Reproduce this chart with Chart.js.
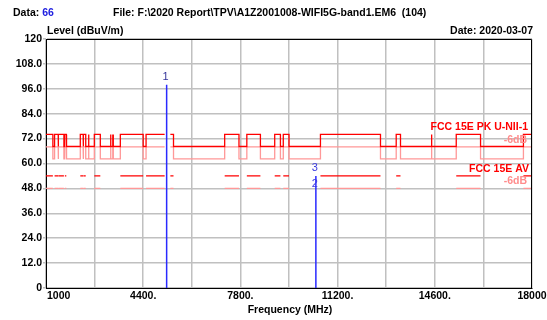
<!DOCTYPE html>
<html>
<head>
<meta charset="utf-8">
<script src="https://cdn.jsdelivr.net/npm/chart.js@4.4.1/dist/chart.umd.min.js"></script>
<style>
  html, body { margin: 0; padding: 0; background: #ffffff; }
  #wrap { width: 547px; height: 320px; position: relative; }
</style>
</head>
<body>
<div id="wrap"><canvas id="c" width="547" height="320"></canvas></div>
<script>
// ---------- data ----------
// limit line segment edges (MHz)
const limitEdgesMHz = [1000, 1240, 1300, 1427, 1435, 1626.5, 1645.5, 1646.5, 1660, 1710,
  1718.8, 1722.2, 2200, 2300, 2310, 2390, 2483.5, 2500, 2690, 2900,
  3260, 3267, 3332, 3339, 3345.8, 3358, 3600, 4400, 4500, 5150,
  5350, 5460, 7250, 7750, 8025, 8500, 9000, 9200, 9300, 9500,
  10600, 12700, 13250, 13400, 14470, 14500, 15350, 16200, 17700, 18000];
// level of each segment (dBuV/m), null = no limit drawn
const pkLimit = [74, 68.2, 74, 68.2, 74, 68.2, 74, 68.2, 74, 68.2,
  74, 68.2, 74, 68.2, 74, 68.2, 74, 68.2, 74, 68.2,
  74, 68.2, 74, 68.2, 74, 68.2, 74, 68.2, 74, null,
  74, 68.2, 74, 68.2, 74, 68.2, 74, 68.2, 74, 68.2,
  74, 68.2, 74, 68.2, 74, 68.2, 74, 68.2, 74];
const pkLimitMinus6 = [68, 62.2, 68, 62.2, 68, 62.2, 68, 62.2, 68, 62.2,
  68, 62.2, 68, 62.2, 68, 62.2, 68, 62.2, 68, 62.2,
  68, 62.2, 68, 62.2, 68, 62.2, 68, 62.2, 68, null,
  68, 62.2, 68, 62.2, 68, 62.2, 68, 62.2, 68, 62.2,
  68, 62.2, 68, 62.2, 68, 62.2, 68, 62.2, 68];
const avLimit = [54, null, 54, null, 54, null, 54, null, 54, null,
  54, null, 54, null, 54, null, 54, null, 54, null,
  54, null, 54, null, 54, null, 54, null, 54, null,
  54, null, 54, null, 54, null, 54, null, 54, null,
  54, null, 54, null, 54, null, 54, null, 54];
const avLimitMinus6 = [48, null, 48, null, 48, null, 48, null, 48, null,
  48, null, 48, null, 48, null, 48, null, 48, null,
  48, null, 48, null, 48, null, 48, null, 48, null,
  48, null, 48, null, 48, null, 48, null, 48, null,
  48, null, 48, null, 48, null, 48, null, 48];

// measured markers
const markerFreqs  = [5220, 10440, 10440];
const markerLevels = [98, 46.5, 54];
const markerLabels = ['1', '2', '3'];

// axes
const xGridValues = [1000, 2700, 4400, 6100, 7800, 9500, 11200, 12900, 14600, 16300, 18000];
const xTickValues = [1000, 4400, 7800, 11200, 14600, 18000];
const xTickLabels = ['1000', '4400.', '7800.', '11200.', '14600.', '18000'];
const yTickValues = [0, 12, 24, 36, 48, 60, 72, 84, 96, 108, 120];
const yTickLabels = ['0', '12.0', '24.0', '36.0', '48.0', '60.0', '72.0', '84.0', '96.0', '108.0', '120'];

// ---------- build line tables ----------
function segPoints(levels) {
  const pts = [];
  for (let i = 0; i < levels.length; i++) {
    pts.push({x: limitEdgesMHz[i], y: levels[i]});
    pts.push({x: limitEdgesMHz[i + 1], y: levels[i]});
    if (levels[i] === null || levels[i + 1] === null || levels[i + 1] === undefined) {
      pts.push({x: limitEdgesMHz[i + 1], y: null});
    }
  }
  return pts;
}
function markerPoints() {
  const pts = [];
  markerFreqs.forEach((f, i) => {
    pts.push({x: f, y: 0});
    pts.push({x: f, y: markerLevels[i]});
    pts.push({x: f, y: null});
  });
  return pts;
}

const FONT = 'Liberation Sans, Arial, sans-serif';

const textPlugin = {
  id: 'texts',
  afterDraw(chart) {
    const ctx = chart.ctx;
    const xs = chart.scales.x, ys = chart.scales.y;
    const a = chart.chartArea;
    ctx.save();
    // frame top/right
    ctx.strokeStyle = '#000';
    ctx.lineWidth = 1;
    ctx.beginPath();
    ctx.moveTo(a.left, a.top + 0.5); ctx.lineTo(a.right - 0.5, a.top + 0.5); ctx.lineTo(a.right - 0.5, a.bottom);
    ctx.stroke();

    ctx.font = 'bold 10.5px ' + FONT;
    ctx.textBaseline = 'middle';
    ctx.textAlign = 'left';
    ctx.fillStyle = '#000';
    ctx.fillText('Data:', 13, 13);
    const w = ctx.measureText('Data: ').width;
    ctx.fillStyle = '#2020e0';
    ctx.fillText('66', 13 + w, 13);
    ctx.fillStyle = '#000';
    ctx.fillText('File: F:\\2020 Report\\TPV\\A1Z2001008-WIFI5G-band1.EM6  (104)', 113, 13);
    ctx.fillText('Level (dBuV/m)', 47, 31);
    ctx.textAlign = 'right';
    ctx.fillText('Date: 2020-03-07', 533, 31);
    ctx.textAlign = 'center';
    ctx.fillText('Frequency (MHz)', 290, 310);

    // x tick labels
    xTickValues.forEach((v, i) => {
      const px = xs.getPixelForValue(v);
      if (i === 0) { ctx.textAlign = 'left'; ctx.fillText(xTickLabels[i], px + 1, 296); }
      else { ctx.textAlign = 'center'; ctx.fillText(xTickLabels[i], px, 296); }
    });

    // limit legends
    ctx.textAlign = 'right';
    ctx.fillStyle = '#ff0000';
    ctx.fillText('FCC 15E PK U-NII-1', 528, 127);
    ctx.fillText('FCC 15E AV', 529, 169);
    ctx.fillStyle = '#ff8c8c';
    ctx.fillText('-6dB', 527, 140.5);
    ctx.fillText('-6dB', 527, 181.5);

    // marker labels
    ctx.textAlign = 'center';
    markerFreqs.forEach((f, i) => {
      ctx.fillStyle = i === 0 ? '#333399' : '#3d3de0';
      ctx.font = '11px ' + FONT;
      ctx.fillText(markerLabels[i], xs.getPixelForValue(f) - 1, ys.getPixelForValue(markerLevels[i]) - 8);
    });
    ctx.restore();
  }
};

new Chart(document.getElementById('c'), {
  type: 'line',
  data: {
    datasets: [
      { label: 'markers', data: markerPoints(), borderColor: '#2a2aff', borderWidth: 1.5, pointRadius: 0, spanGaps: false },
      { label: 'FCC 15E PK U-NII-1', data: segPoints(pkLimit), borderColor: '#ff0000', borderWidth: 1.3, pointRadius: 0, spanGaps: false },
      { label: 'FCC 15E AV', data: segPoints(avLimit), borderColor: '#ff0000', borderWidth: 1.3, pointRadius: 0, spanGaps: false },
      { label: 'PK -6dB', data: segPoints(pkLimitMinus6), borderColor: '#ff9898', borderWidth: 1.3, pointRadius: 0, spanGaps: false },
      { label: 'AV -6dB', data: segPoints(avLimitMinus6), borderColor: '#ff9898', borderWidth: 1.3, pointRadius: 0, spanGaps: false }
    ]
  },
  options: {
    responsive: false,
    animation: false,
    devicePixelRatio: 1,
    layout: { padding: { top: 39, right: 15, bottom: 0, left: 0 } },
    plugins: { legend: { display: false }, tooltip: { enabled: false } },
    elements: { line: { tension: 0 } },
    scales: {
      x: {
        type: 'linear', min: 1000, max: 18000,
        afterBuildTicks: s => { s.ticks = xGridValues.map(v => ({value: v})); },
        afterFit: s => { s.height = 32; },
        ticks: { display: false },
        grid: { color: '#c0c0c0', lineWidth: 1.5, drawTicks: false },
        border: { display: true, color: '#000', width: 1 }
      },
      y: {
        type: 'linear', min: 0, max: 120,
        afterBuildTicks: s => { s.ticks = yTickValues.map(v => ({value: v})); },
        afterFit: s => { s.width = 46; },
        ticks: {
          padding: 1,
          color: '#000',
          font: { family: FONT, size: 10.5, weight: 'bold' },
          callback: (v) => { const i = yTickValues.indexOf(v); return i >= 0 ? yTickLabels[i] : ''; }
        },
        grid: { color: '#c0c0c0', lineWidth: 1.5, drawTicks: true, tickLength: 3 },
        border: { display: true, color: '#000', width: 1 }
      }
    }
  },
  plugins: [textPlugin]
});
</script>
</body>
</html>
